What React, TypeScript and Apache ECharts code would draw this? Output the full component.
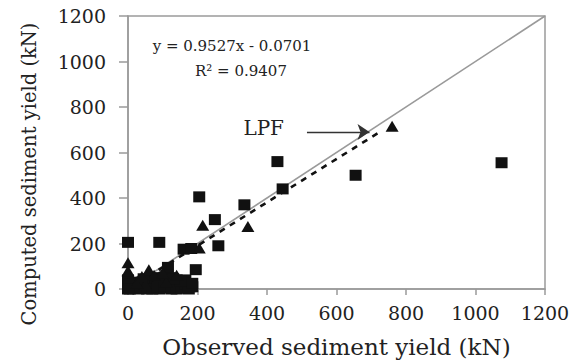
import React, { useEffect, useRef } from "react";
import * as echarts from "echarts";

// Axis settings
const axisMin = 0;
const axisMax = 1200;
const axisInterval = 200;

// Observed / computed sediment yield (kN) — square markers
const squareObserved = [0, 90, 205, 250, 335, 445, 260, 195, 115, 430, 655, 1075, 160, 182,
  0, 15, 30, 45, 60, 75, 90, 100, 115, 130, 145, 160, 175, 40, 70, 95, 110, 140, 85, 20, 165, 150, 0, 135, 185,
  10, 25, 35, 50, 55, 65, 80, 95, 105, 120, 125, 135, 150, 155, 170, 180, 60, 80, 100, 120, 45, 15, 5, 110, 125,
  5, 35, 55, 70, 85, 105, 125, 140, 155, 165, 175, 185, 150, 130];
const squareComputed = [205, 205, 405, 305, 370, 440, 190, 85, 95, 560, 500, 555, 175, 178,
  0, 5, 0, 10, 5, 15, 0, 20, 10, 5, 20, 10, 15, 30, 40, 50, 60, 40, 25, 15, 40, 5, 40, 30, 10,
  10, 5, 20, 10, 25, 10, 5, 10, 5, 20, 35, 10, 25, 15, 5, 10, 30, 35, 45, 50, 45, 30, 20, 25, 0,
  0, 5, 0, 0, 10, 15, 5, 0, 5, 20, 0, 25, 35, 45];

// Triangle markers
const triangleObserved = [0, 0, 60, 30, 90, 215, 345, 760, 205, 140, 110, 50, 75, 25, 40, 100];
const triangleComputed = [115, 80, 85, 40, 55, 280, 275, 715, 180, 60, 30, 20, 60, 25, 55, 70];

// Regression line printed on the chart
const slope = 0.9527;
const intercept = -0.0701;
const rSquared = 0.9407;
const trendXRange = [0, 725];
const oneToOneRange = [0, 1200];

// LPF arrow (data coordinates)
const lpfArrowStart = [515, 690];
const lpfArrowEnd = [695, 690];

const FONT = "'DejaVu Serif', serif";

export default function App() {
  const ref = useRef<HTMLDivElement>(null);

  useEffect(() => {
    document.body.style.margin = "0";
    if (!ref.current) return;
    const chart = echarts.init(ref.current, null, { renderer: "svg" });

    const squares = squareObserved.map((x, i) => [x, squareComputed[i]]);
    const triangles = triangleObserved.map((x, i) => [x, triangleComputed[i]]);
    const trend = trendXRange.map((x) => [x, slope * x + intercept]);
    const diag = oneToOneRange.map((v) => [v, v]);

    const axisCommon = {
      type: "value" as const,
      min: axisMin,
      max: axisMax,
      interval: axisInterval,
      splitLine: { show: false },
      axisLine: { show: true, lineStyle: { color: "#9a9a9a", width: 1.5 } },
      axisTick: { show: true, inside: false, lineStyle: { color: "#9a9a9a", width: 1.5 } },
    };
    const fmt = (v: number) => String(v);

    chart.setOption({
      animation: false,
      grid: {
        left: 128,
        right: 36,
        top: 16,
        bottom: 73,
        show: true,
        borderColor: "#9a9a9a",
        borderWidth: 1.5,
        backgroundColor: "transparent",
      },
      xAxis: {
        ...axisCommon,
        axisTick: { ...axisCommon.axisTick, length: 6 },
        axisLabel: { fontFamily: FONT, fontSize: 19, color: "#222", margin: 14, formatter: fmt },
        name: "Observed sediment yield (kN)",
        nameLocation: "middle",
        nameGap: 46,
        nameTextStyle: { fontFamily: FONT, fontSize: 23, color: "#222" },
      },
      yAxis: {
        ...axisCommon,
        axisTick: { ...axisCommon.axisTick, length: 9 },
        axisLabel: { fontFamily: FONT, fontSize: 19, color: "#222", margin: 22, formatter: fmt },
      },
      series: [
        {
          type: "line",
          data: diag,
          symbol: "none",
          silent: true,
          lineStyle: { color: "#9a9a9a", width: 1.6 },
          z: 1,
        },
        {
          type: "line",
          data: trend,
          symbol: "none",
          silent: true,
          lineStyle: { color: "#111", width: 2.6, type: [6, 6] },
          z: 2,
        },
        {
          type: "scatter",
          data: squares,
          symbol: "rect",
          symbolSize: [12, 11],
          itemStyle: { color: "#111", opacity: 1 },
          z: 3,
        },
        {
          type: "scatter",
          data: triangles,
          symbol: "triangle",
          symbolSize: [13, 11],
          itemStyle: { color: "#111", opacity: 1 },
          z: 3,
        },
        {
          type: "lines",
          coordinateSystem: "cartesian2d",
          silent: true,
          symbol: ["none", "arrow"],
          symbolSize: 12,
          lineStyle: { color: "#333", width: 1.4, opacity: 1 },
          data: [{ coords: [lpfArrowStart, lpfArrowEnd] }],
          z: 4,
        },
      ],
      graphic: [
        {
          type: "text",
          x: 232,
          y: 46,
          style: {
            text: `y = ${slope}x - ${Math.abs(intercept).toFixed(4)}`,
            font: `15px ${FONT}`,
            fill: "#222",
            textAlign: "center",
            textVerticalAlign: "middle",
          },
        },
        {
          type: "text",
          x: 241,
          y: 71,
          style: {
            text: `R² = ${rSquared}`,
            font: `15px ${FONT}`,
            fill: "#222",
            textAlign: "center",
            textVerticalAlign: "middle",
          },
        },
        {
          type: "text",
          x: 284,
          y: 128,
          style: {
            text: "LPF",
            font: `20px ${FONT}`,
            fill: "#222",
            textAlign: "right",
            textVerticalAlign: "middle",
          },
        },
        {
          type: "text",
          x: 29,
          y: 174,
          rotation: Math.PI / 2,
          style: {
            text: "Computed sediment yield (kN)",
            font: `19.5px ${FONT}`,
            fill: "#222",
            textAlign: "center",
            textVerticalAlign: "middle",
          },
        },
      ],
    });

    return () => chart.dispose();
  }, []);

  return <div ref={ref} style={{ width: 581, height: 363 }} />;
}
